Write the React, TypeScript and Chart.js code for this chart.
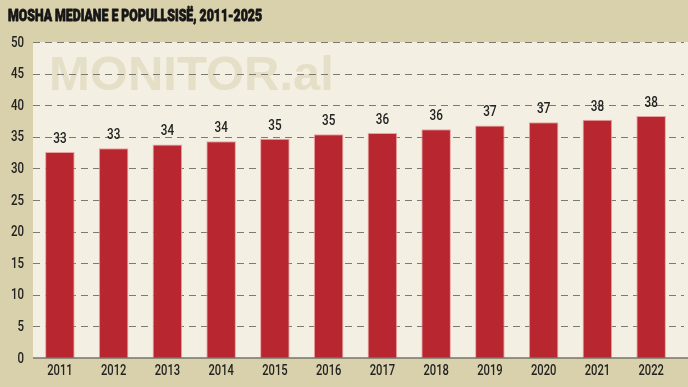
import React, { useEffect, useRef } from "react";
import { Chart, registerables } from "chart.js";

Chart.register(...registerables);

const titleText = "MOSHA MEDIANE E POPULLSISË, 2011-2025";
const watermark = "MONITOR.al";
const years = ["2011", "2012", "2013", "2014", "2015", "2016", "2017", "2018", "2019", "2020", "2021", "2022"];
const medianAge = [32.6, 33.2, 33.8, 34.3, 34.7, 35.4, 35.6, 36.2, 36.8, 37.3, 37.7, 38.3];
const yTicks = [0, 5, 10, 15, 20, 25, 30, 35, 40, 45, 50];

const FONT = "Roboto, 'DejaVu Sans', sans-serif";
const TAN = "#d9d1ab";
const CREAM = "#f3f0e3";

function condensed(ctx: any, text: string, x: number, y: number, align: string, sx: number, stroke = 0) {
  ctx.save();
  ctx.translate(x, y);
  ctx.scale(sx, 1);
  ctx.textAlign = align;
  ctx.fillText(text, 0, 0);
  if (stroke > 0) {
    ctx.lineWidth = stroke;
    ctx.strokeStyle = ctx.fillStyle;
    ctx.lineJoin = "round";
    ctx.strokeText(text, 0, 0);
  }
  ctx.restore();
}

const decorPlugin = {
  id: "decor",
  beforeDraw(chart: any) {
    const { ctx, chartArea, width, height } = chart;
    const y = chart.scales.y;
    ctx.save();
    ctx.fillStyle = TAN;
    ctx.fillRect(0, 0, width, height);
    const top = y.getPixelForValue(50);
    const bottom = y.getPixelForValue(0);
    ctx.fillStyle = CREAM;
    ctx.fillRect(chartArea.left, top, width - chartArea.left, bottom - top);
    // watermark
    ctx.fillStyle = "#e5dfc8";
    ctx.font = "bold 49px 'Liberation Sans', Arial, sans-serif";
    ctx.textBaseline = "alphabetic";
    ctx.textAlign = "left";
    ctx.fillText(watermark, 49, 90);
    // title
    ctx.fillStyle = "#161616";
    ctx.font = "900 16px " + FONT;
    const tw = ctx.measureText(titleText).width;
    condensed(ctx, titleText, 8, 21, "left", 254 / tw, 0.8);
    // dashed grid
    ctx.strokeStyle = "#7a7a72";
    ctx.lineWidth = 1;
    ctx.setLineDash([7, 5]);
    yTicks.forEach((v) => {
      if (v === 0) return;
      const py = Math.round(y.getPixelForValue(v)) + 0.5;
      ctx.beginPath();
      ctx.moveTo(chartArea.left, py);
      ctx.lineTo(width - 4, py);
      ctx.stroke();
    });
    ctx.setLineDash([]);
    // y tick labels
    ctx.fillStyle = "#222";
    ctx.font = "500 14px " + FONT;
    ctx.textBaseline = "middle";
    yTicks.forEach((v) => {
      condensed(ctx, String(v), 24, y.getPixelForValue(v) + 1, "right", 0.82);
    });
    // x tick labels
    const x = chart.scales.x;
    ctx.textBaseline = "alphabetic";
    years.forEach((lab, i) => {
      condensed(ctx, lab, x.getPixelForTick(i), 375, "center", 0.8);
    });
    ctx.restore();
  },
  afterDatasetsDraw(chart: any) {
    const { ctx, width } = chart;
    const y = chart.scales.y;
    const meta = chart.getDatasetMeta(0);
    ctx.save();
    // axis line
    ctx.strokeStyle = "#75756d";
    ctx.lineWidth = 1.5;
    const by = y.getPixelForValue(0);
    ctx.beginPath();
    ctx.moveTo(chart.chartArea.left, by);
    ctx.lineTo(width, by);
    ctx.stroke();
    // value labels
    ctx.fillStyle = "#222";
    ctx.font = "500 15px " + FONT;
    ctx.textBaseline = "alphabetic";
    meta.data.forEach((bar: any, i: number) => {
      condensed(ctx, String(Math.round(medianAge[i])), bar.x, bar.y - 9, "center", 0.78);
    });
    ctx.restore();
  },
};

export default function App() {
  const ref = useRef<HTMLCanvasElement>(null);
  useEffect(() => {
    document.body.style.margin = "0";
    const chart = new Chart(ref.current!, {
      type: "bar",
      data: {
        labels: years,
        datasets: [
          {
            data: medianAge,
            backgroundColor: "#b82630",
            borderColor: "#e9a3a0",
            borderWidth: 1,
            borderSkipped: "bottom",
            categoryPercentage: 1,
            barPercentage: 0.55,
          },
        ],
      },
      options: {
        animation: false,
        responsive: false,
        devicePixelRatio: 1,
        layout: { padding: { top: 42, right: 10, left: 0, bottom: 0 } },
        plugins: { legend: { display: false }, tooltip: { enabled: false }, title: { display: false } },
        scales: {
          x: {
            grid: { display: false, drawTicks: false },
            border: { display: false },
            ticks: { display: false },
            afterFit: (s: any) => {
              s.height = 29;
            },
          },
          y: {
            min: 0,
            max: 50,
            grid: { display: false, drawTicks: false },
            border: { display: false },
            afterBuildTicks: (s: any) => {
              s.ticks = yTicks.map((v) => ({ value: v }));
            },
            ticks: { display: false },
            afterFit: (s: any) => {
              s.width = 33;
            },
          },
        },
      },
      plugins: [decorPlugin],
    });
    return () => chart.destroy();
  }, []);
  return (
    <div style={{ width: 688, height: 387 }}>
      <canvas ref={ref} width={688} height={387} />
    </div>
  );
}
